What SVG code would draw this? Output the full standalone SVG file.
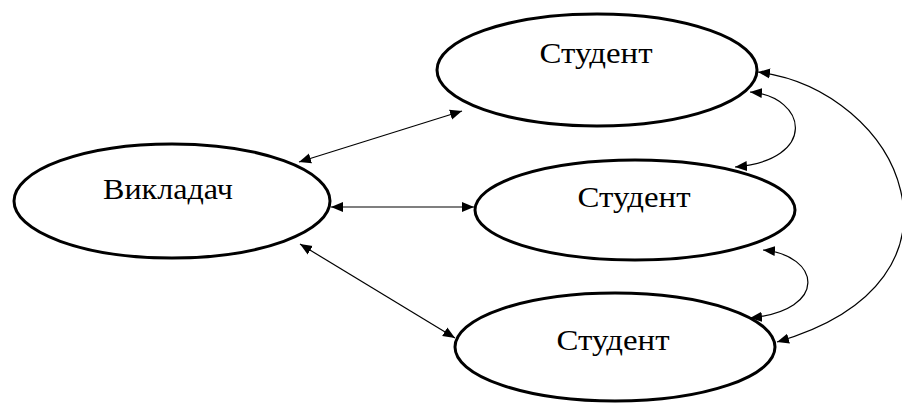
<svg xmlns="http://www.w3.org/2000/svg" width="902" height="403" viewBox="0 0 902 403">
<defs>
<style>
.node ellipse{fill:#fff;stroke:#000;stroke-width:3}
.node text{font-family:"Liberation Serif","Times New Roman",serif;font-size:29px;fill:#000;text-anchor:middle}
.conn path{fill:none;stroke:#000;stroke-width:1.2}
</style>
<marker id="ah" viewBox="0 0 10 10" refX="10" refY="5" markerWidth="12" markerHeight="12" markerUnits="userSpaceOnUse" orient="auto-start-reverse">
<path d="M0,0.8 L10,5 L0,9.2 Z" fill="#000"/>
</marker>
</defs>
<rect width="902" height="403" fill="#fff"/>
<g class="conn">
<path d="M299,162 L462,111" marker-start="url(#ah)" marker-end="url(#ah)"/>
<path d="M331,207 L474,207" marker-start="url(#ah)" marker-end="url(#ah)"/>
<path d="M300,244 L455,338" marker-start="url(#ah)" marker-end="url(#ah)"/>
<path d="M758,72 C900,90 990,280 777,342" marker-start="url(#ah)" marker-end="url(#ah)"/>
<path d="M750,92 C808,97 818,160 735,167" marker-start="url(#ah)" marker-end="url(#ah)"/>
<path d="M763,250 C820,255 830,310 750,318" marker-start="url(#ah)" marker-end="url(#ah)"/>
</g>
<g id="teacher" class="node">
<ellipse cx="172" cy="201" rx="158" ry="57"/>
<text x="168" y="199" textLength="130" lengthAdjust="spacingAndGlyphs">Викладач</text>
</g>
<g id="student1" class="node">
<ellipse cx="597" cy="70" rx="160" ry="56"/>
<text x="596" y="63" textLength="113" lengthAdjust="spacingAndGlyphs">Студент</text>
</g>
<g id="student2" class="node">
<ellipse cx="635" cy="210" rx="160" ry="50"/>
<text x="634" y="207" textLength="113" lengthAdjust="spacingAndGlyphs">Студент</text>
</g>
<g id="student3" class="node">
<ellipse cx="615" cy="347" rx="160" ry="54"/>
<text x="613" y="350" textLength="113" lengthAdjust="spacingAndGlyphs">Студент</text>
</g>
</svg>
